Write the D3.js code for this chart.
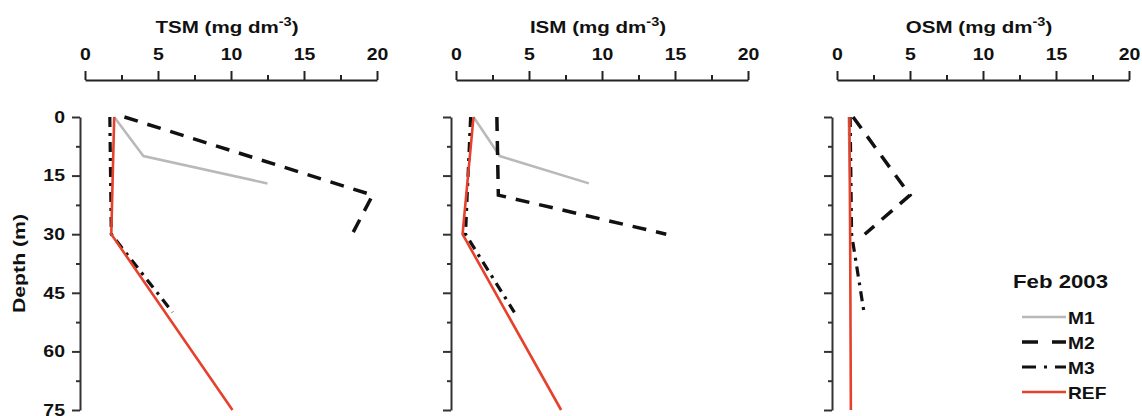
<!DOCTYPE html>
<html><head><meta charset="utf-8">
<script src="https://cdn.jsdelivr.net/npm/d3@7"></script>
<style>
body{margin:0;background:#fff;}
svg{display:block;}
text{font-family:"Liberation Sans",Arial,sans-serif;font-weight:bold;fill:#111;}
</style></head>
<body>
<svg id="chart" width="1142" height="416"></svg>
<script>
// ---- data ----
const depthTicks = [0, 15, 30, 45, 60, 75];
const depthMinor = [7.5, 22.5, 37.5, 52.5, 67.5];
const xTicks = [0, 5, 10, 15, 20];
const xMinor = [2.5, 7.5, 12.5, 17.5];
const panelNames = ["TSM", "ISM", "OSM"];
const seriesNames = ["M1", "M2", "M3", "REF"];
const legendTitle = "Feb 2003";
const yLabel = "Depth (m)";

const m1Depth = [0, 10, 17];
const m2Depth = [0, 20, 30];
const m3Depth = [0, 30, 50];
const refDepth = [0, 30, 75];

const tsmM1 = [2.0, 4.0, 12.5];
const tsmM2 = [2.7, 19.7, 18.3];
const tsmM3 = [1.7, 1.8, 6.0];
const tsmREF = [2.0, 1.8, 10.1];

const ismM1 = [1.2, 3.0, 9.1];
const ismM2 = [2.8, 2.9, 14.4];
const ismM3 = [1.0, 0.65, 4.0];
const ismREF = [1.2, 0.45, 7.2];

const osmM1 = [0.8, 0.85, 0.9];
const osmM2 = [1.1, 5.0, 1.9];
const osmM3 = [0.9, 1.0, 1.85];
const osmREF = [0.85, 0.9, 0.95];

// ---- layout / style ----
const panelX0 = [85, 456, 837];
const panelW = 292;
const yTop = 117, yBot = 410;
const axisY = 80;
const styles = {
  M1: {stroke: "#b9b9b9", width: 2.5, dash: null, legendDash: null},
  M2: {stroke: "#111", width: 3.5, dash: "14,10", legendDash: "16,14"},
  M3: {stroke: "#111", width: 3.2, dash: "10,6,3,6", legendDash: "14,8,3,8"},
  REF: {stroke: "#e5412b", width: 2.6, dash: null, legendDash: null}
};
const depthsBySeries = {M1: m1Depth, M2: m2Depth, M3: m3Depth, REF: refDepth};
const panelData = [
  {M1: tsmM1, M2: tsmM2, M3: tsmM3, REF: tsmREF},
  {M1: ismM1, M2: ismM2, M3: ismM3, REF: ismREF},
  {M1: osmM1, M2: osmM2, M3: osmM3, REF: osmREF}
];

const svg = d3.select("#chart");
const y = d3.scaleLinear().domain([0, 75]).range([yTop, yBot]);

function stretchText(sel, sx) {
  sel.each(function() {
    const t = d3.select(this);
    const x = +t.attr("x") || 0, yy = +t.attr("y") || 0;
    t.attr("x", 0).attr("y", 0)
     .attr("transform", `translate(${x},${yy}) scale(${sx},1)`);
  });
}

panelNames.forEach((name, i) => {
  const x0 = panelX0[i];
  const x = d3.scaleLinear().domain([0, 20]).range([x0, x0 + panelW]);
  const g = svg.append("g");

  // top axis (major)
  const ax = g.append("g").attr("transform", `translate(0,${axisY})`)
    .call(d3.axisTop(x).tickValues(xTicks).tickSize(9).tickSizeOuter(0).tickPadding(11));
  ax.selectAll("text").attr("font-size", 16.5).attr("fill", "#111")
    .style("font-family", '"Liberation Sans",Arial,sans-serif').style("font-weight", "bold");
  stretchText(ax.selectAll("text"), 1.18);
  ax.select(".domain").attr("stroke", "#222").attr("stroke-width", 2);
  ax.selectAll(".tick line").attr("stroke", "#222").attr("stroke-width", 2);
  // minor
  const axm = g.append("g").attr("transform", `translate(0,${axisY})`)
    .call(d3.axisTop(x).tickValues(xMinor).tickSize(5).tickFormat(""));
  axm.select(".domain").remove();
  axm.selectAll(".tick line").attr("stroke", "#222").attr("stroke-width", 2);

  // title
  const title = g.append("text")
    .attr("text-anchor", "middle").attr("font-size", 17)
    .attr("transform", `translate(${x0 + panelW / 2 - 4},33) scale(1.21,1)`);
  title.append("tspan").text(name + " (mg dm");
  title.append("tspan").attr("font-size", 12).attr("dy", -7).text("-3");
  title.append("tspan").attr("dy", 7).text(")");

  // depth axis
  const dx = x0 - 5;
  const ay = g.append("g").attr("transform", `translate(${dx},0)`)
    .call(d3.axisLeft(y).tickValues(depthTicks).tickSize(8).tickSizeOuter(0)
      .tickPadding(7).tickFormat(i === 0 ? d3.format("d") : ""));
  ay.select(".domain").attr("stroke", "#333").attr("stroke-width", 2);
  ay.selectAll(".tick line").attr("stroke", "#333").attr("stroke-width", 2);
  ay.selectAll("text").attr("font-size", 16.5).attr("fill", "#111")
    .style("font-family", '"Liberation Sans",Arial,sans-serif').style("font-weight", "bold");
  stretchText(ay.selectAll("text"), 1.18);
  const aym = g.append("g").attr("transform", `translate(${dx},0)`)
    .call(d3.axisLeft(y).tickValues(depthMinor).tickSize(4).tickFormat(""));
  aym.select(".domain").remove();
  aym.selectAll(".tick line").attr("stroke", "#333").attr("stroke-width", 2);

  // lines
  const line = d3.line().x(d => x(d.v)).y(d => y(d.d));
  seriesNames.forEach(s => {
    const vals = panelData[i][s];
    const pts = vals.map((v, k) => ({v: v, d: depthsBySeries[s][k]}));
    const st = styles[s];
    g.append("path").datum(pts)
      .attr("d", line).attr("fill", "none")
      .attr("stroke", st.stroke).attr("stroke-width", st.width)
      .attr("stroke-linejoin", "miter")
      .attr("stroke-dasharray", st.dash);
  });
});

// y label
svg.append("text").attr("text-anchor", "middle").attr("font-size", 16)
  .attr("transform", "translate(24.5,263.5) rotate(-90) scale(1.33,1)")
  .text(yLabel);

// legend
svg.append("text").attr("font-size", 19)
  .attr("transform", "translate(1013,288) scale(1.17,1)").text(legendTitle);
const legY = d3.scalePoint().domain(seriesNames).range([317, 392]);
seriesNames.forEach(s => {
  const st = styles[s];
  svg.append("line").attr("x1", 1022).attr("x2", 1066)
    .attr("y1", legY(s)).attr("y2", legY(s))
    .attr("stroke", st.stroke).attr("stroke-width", st.width)
    .attr("stroke-dasharray", st.legendDash);
  svg.append("text").attr("font-size", 16)
    .attr("transform", `translate(1068,${legY(s) + 6.5}) scale(1.2,1)`).text(s);
});
</script>
</body></html>
